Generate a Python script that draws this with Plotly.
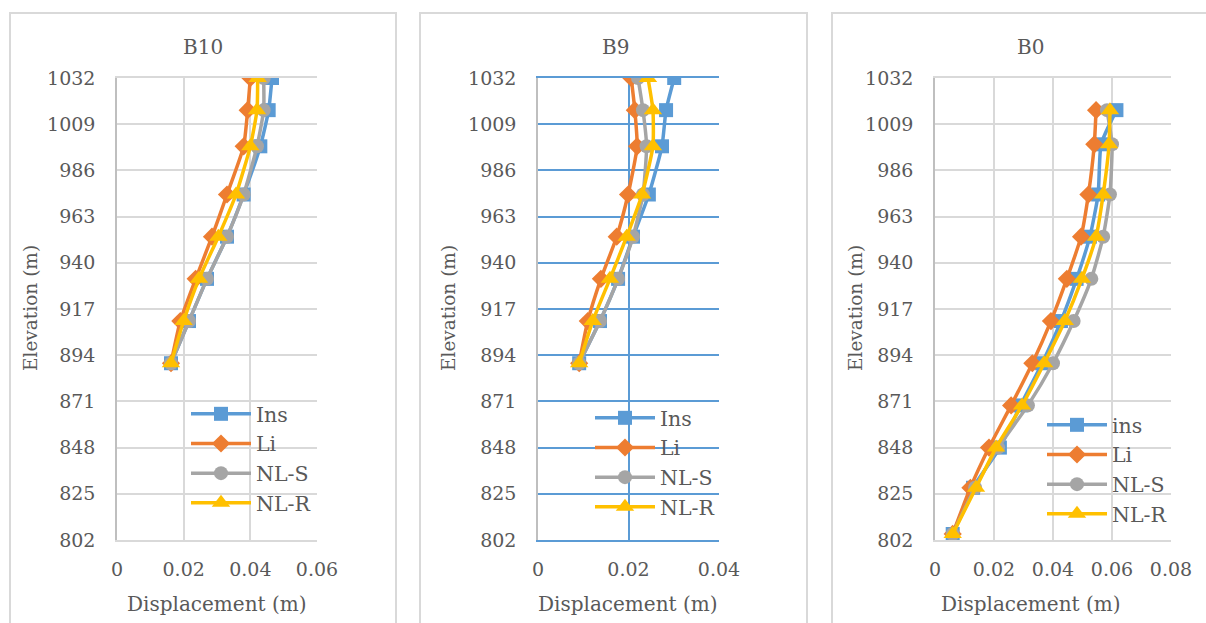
import plotly.graph_objects as go

W, H = 1206, 623

# ---------------- data ----------------
elev_B10 = [1032, 1016, 998, 974, 953, 932, 911, 890]
B10_ins  = [0.0465, 0.0455, 0.0430, 0.0380, 0.0330, 0.0270, 0.0216, 0.0162]
B10_li   = [0.0400, 0.0392, 0.0380, 0.0330, 0.0285, 0.0236, 0.0190, 0.0162]
B10_nls  = [0.0440, 0.0440, 0.0420, 0.0380, 0.0330, 0.0270, 0.0216, 0.0162]
B10_nlr  = [0.0422, 0.0420, 0.0400, 0.0357, 0.0304, 0.0246, 0.0200, 0.0162]

elev_B9 = [1032, 1016, 998, 974, 953, 932, 911, 890]
B9_ins  = [0.0301, 0.0283, 0.0274, 0.0245, 0.0210, 0.0177, 0.0137, 0.0091]
B9_li   = [0.0206, 0.0214, 0.0219, 0.0199, 0.0174, 0.0139, 0.0110, 0.0091]
B9_nls  = [0.0221, 0.0232, 0.0240, 0.0232, 0.0210, 0.0177, 0.0137, 0.0091]
B9_nlr  = [0.0243, 0.0254, 0.0254, 0.0230, 0.0196, 0.0159, 0.0121, 0.0091]

elev_B0 = [1016, 999, 974, 953, 932, 911, 890, 869, 848, 828, 805]
B0_ins  = [0.0615, 0.0563, 0.0553, 0.0525, 0.0480, 0.0427, 0.0363, 0.0290, 0.0220, 0.0129, 0.0060]
B0_li   = [0.0546, 0.0540, 0.0520, 0.0495, 0.0447, 0.0393, 0.0330, 0.0258, 0.0183, 0.0120, 0.0060]
B0_nls  = [0.0583, 0.0600, 0.0593, 0.0570, 0.0530, 0.0470, 0.0400, 0.0315, 0.0214, 0.0136, 0.0060]
B0_nlr  = [0.0593, 0.0590, 0.0570, 0.0546, 0.0498, 0.0440, 0.0370, 0.0295, 0.0207, 0.0139, 0.0060]

y_ticks = [802, 825, 848, 871, 894, 917, 940, 963, 986, 1009, 1032]
panel_titles = ["B10", "B9", "B0"]
x_ranges = [[0, 0.06], [0, 0.04], [0, 0.08]]
x_dtick = 0.02

series_names = [["Ins", "Li", "NL-S", "NL-R"],
                ["Ins", "Li", "NL-S", "NL-R"],
                ["ins", "Li", "NL-S", "NL-R"]]

# ---------------- style ----------------
FONT = "DejaVu Serif"
TXT = "#595959"
FS_TICK = 19
FS_TITLE = 20
FS_XT = 20
FS_YT = 18.5
FS_LEG = 20.5
colors = ["#5B9BD5", "#ED7D31", "#A5A5A5", "#FFC000"]
symbols = ["square", "diamond", "circle", "triangle-up"]
msizes = [14, 14, 14, 16]

px_x = [(117, 317), (538, 719), (935, 1171)]
py_top, py_bot = 78, 540
ydom = [(H - py_bot) / H, (H - py_top) / H]

grid_colors = ["#D9D9D9", "#5B9BD5", "#D9D9D9"]

panels = [
    (elev_B10, [B10_ins, B10_li, B10_nls, B10_nlr]),
    (elev_B9, [B9_ins, B9_li, B9_nls, B9_nlr]),
    (elev_B0, [B0_ins, B0_li, B0_nls, B0_nlr]),
]

legend_pos = [(186, 394), (590, 398), (1042, 405)]

fig = go.Figure()
layout = {}
for i, (elev, series) in enumerate(panels):
    xa = "x" if i == 0 else f"x{i+1}"
    ya = "y" if i == 0 else f"y{i+1}"
    lg = "legend" if i == 0 else f"legend{i+1}"
    for k, vals in enumerate(series):
        fig.add_trace(go.Scatter(
            x=vals, y=elev, xaxis=xa, yaxis=ya, legend=lg,
            name=series_names[i][k], mode="lines+markers",
            line=dict(color=colors[k], width=3.5, shape="spline", smoothing=0.5),
            marker=dict(symbol=symbols[k], size=msizes[k], color=colors[k]),
            showlegend=True,
        ))
    gc = grid_colors[i]
    x0, x1 = px_x[i]
    xkey = "xaxis" if i == 0 else f"xaxis{i+1}"
    ykey = "yaxis" if i == 0 else f"yaxis{i+1}"
    layout[xkey] = dict(
        domain=[x0 / W, x1 / W], anchor=ya, range=x_ranges[i], dtick=x_dtick,
        tick0=0, showgrid=True, gridcolor=gc, gridwidth=1.5, zeroline=False,
        showline=True, linecolor=gc, linewidth=1.5, mirror=True,
        ticks="outside", ticklen=11, tickcolor="rgba(0,0,0,0)",
        tickfont=dict(family=FONT, size=FS_TICK, color=TXT),
        tickformat="~g", fixedrange=True, automargin=False,
    )
    layout[ykey] = dict(
        domain=ydom, anchor=xa, range=[802, 1032], tickvals=y_ticks,
        showgrid=True, gridcolor=gc, gridwidth=1.5, zeroline=False,
        showline=True, linecolor="#BFBFBF", linewidth=1.5, mirror=False,
        ticks="outside", ticklen=16, tickcolor="rgba(0,0,0,0)",
        tickfont=dict(family=FONT, size=FS_TICK, color=TXT), fixedrange=True,
        automargin=False,
    )
    lx, ly = legend_pos[i]
    layout[lg] = dict(
        x=lx / W, y=(H - ly) / H, xanchor="left", yanchor="top",
        bgcolor="rgba(0,0,0,0)", font=dict(family=FONT, size=FS_LEG, color=TXT),
        itemwidth=60, tracegroupgap=0,
    )

fig.update_layout(
    width=W, height=H,
    margin=dict(l=0, r=0, t=0, b=0, pad=0, autoexpand=False),
    paper_bgcolor="white", plot_bgcolor="white", showlegend=True,
    **layout,
)

frames = [(10, 396), (420, 807), (832, 1230)]
for fx0, fx1 in frames:
    fig.add_shape(type="rect", xref="paper", yref="paper",
                  x0=fx0 / W, x1=fx1 / W, y0=-0.05, y1=(H - 13) / H,
                  line=dict(color="#D9D9D9", width=2), layer="below")

title_x = [203, 615, 1030]
ylab_x = [30, 448, 855]
xlab_x = [217, 628, 1031]
for i in range(3):
    fig.add_annotation(text=panel_titles[i], x=title_x[i] / W, y=(H - 47) / H,
                       xref="paper", yref="paper", showarrow=False,
                       xanchor="center", yanchor="middle",
                       font=dict(family=FONT, size=FS_TITLE, color=TXT))
    fig.add_annotation(text="Elevation (m)", x=ylab_x[i] / W, y=(H - 308) / H,
                       xref="paper", yref="paper", showarrow=False, textangle=-90,
                       xanchor="center", yanchor="middle",
                       font=dict(family=FONT, size=FS_YT, color=TXT))
    fig.add_annotation(text="Displacement (m)", x=xlab_x[i] / W, y=(H - 604) / H,
                       xref="paper", yref="paper", showarrow=False,
                       xanchor="center", yanchor="middle",
                       font=dict(family=FONT, size=FS_XT, color=TXT))

fig.write_html("out.html")
